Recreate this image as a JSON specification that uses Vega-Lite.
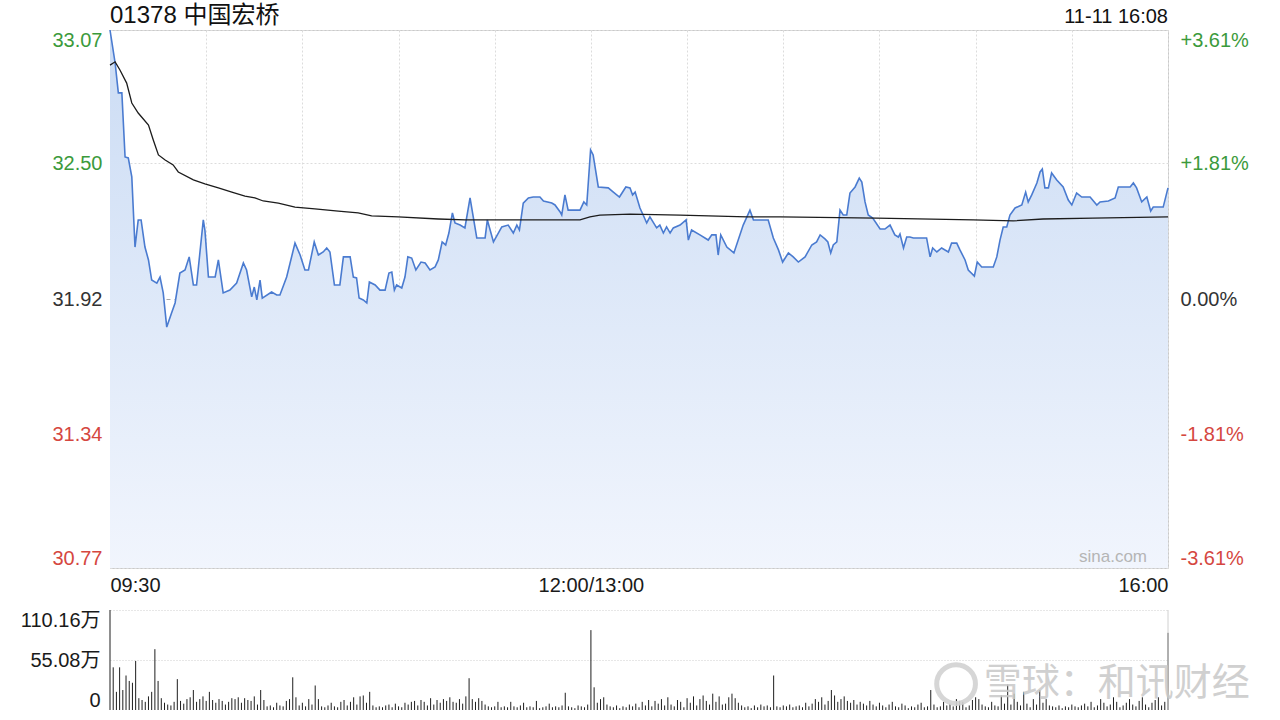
{
"$schema": "https://vega.github.io/schema/vega-lite/v6.json",
"background": "white",
"padding": {"left": 20, "top": 3, "right": 10, "bottom": 5},
"spacing": 13,
"config": {"font": "Liberation Sans, Noto Sans CJK SC", "view": {"stroke": null}},
"datasets": {
"price": [
{"m":0,"p":33.07},{"m":1.6,"p":32.929},{"m":2.6,"p":32.801},{"m":3.7,"p":32.801},{"m":4.7,"p":32.527},{"m":5.7,"p":32.523},{"m":6.8,"p":32.442},{"m":7.8,"p":32.142},{"m":8.8,"p":32.258},{"m":9.7,"p":32.258},{"m":10.9,"p":32.142},{"m":12,"p":32.087},{"m":13,"p":32.001},{"m":14.6,"p":31.988},{"m":15.6,"p":32.014},{"m":16.6,"p":31.946},{"m":17.7,"p":31.8},{"m":19.2,"p":31.86},{"m":20.3,"p":31.903},{"m":21.8,"p":32.031},{"m":23.4,"p":32.044},{"m":24.7,"p":32.1},{"m":26,"p":31.98},{"m":27,"p":31.98},{"m":29.1,"p":32.258},{"m":29.6,"p":32.215},{"m":30.7,"p":32.014},{"m":32.8,"p":32.014},{"m":33.8,"p":32.087},{"m":35.3,"p":31.946},{"m":37.4,"p":31.958},{"m":39.5,"p":31.988},{"m":41.6,"p":32.074},{"m":42.6,"p":32.044},{"m":44.2,"p":31.929},{"m":45,"p":31.971},{"m":45.8,"p":31.916},{"m":46.8,"p":32.001},{"m":47.5,"p":31.924},{"m":50.4,"p":31.95},{"m":52,"p":31.937},{"m":53,"p":31.937},{"m":55.1,"p":32.014},{"m":57.7,"p":32.159},{"m":59.3,"p":32.108},{"m":60.8,"p":32.044},{"m":61.9,"p":32.044},{"m":63.7,"p":32.164},{"m":65,"p":32.108},{"m":66.5,"p":32.121},{"m":67.6,"p":32.138},{"m":68.6,"p":32.121},{"m":70,"p":31.98},{"m":71.7,"p":31.98},{"m":72.8,"p":32.1},{"m":74.9,"p":32.1},{"m":75.9,"p":32.014},{"m":76.9,"p":32.01},{"m":77.7,"p":31.924},{"m":79,"p":31.916},{"m":80.1,"p":31.903},{"m":80.9,"p":31.993},{"m":82.7,"p":31.98},{"m":84.2,"p":31.958},{"m":85.8,"p":31.958},{"m":87,"p":32.031},{"m":87.9,"p":32.035},{"m":88.7,"p":31.958},{"m":89.4,"p":31.98},{"m":91,"p":31.967},{"m":92,"p":32.014},{"m":92.9,"p":32.1},{"m":94.1,"p":32.095},{"m":95.4,"p":32.044},{"m":97,"p":32.078},{"m":98.3,"p":32.074},{"m":99.8,"p":32.044},{"m":101.4,"p":32.057},{"m":102.4,"p":32.087},{"m":103.6,"p":32.164},{"m":104.7,"p":32.151},{"m":105.7,"p":32.202},{"m":106.8,"p":32.288},{"m":107.6,"p":32.245},{"m":109.2,"p":32.236},{"m":110.7,"p":32.224},{"m":112.3,"p":32.352},{"m":114.4,"p":32.181},{"m":117,"p":32.181},{"m":117.7,"p":32.258},{"m":119.6,"p":32.164},{"m":122.2,"p":32.228},{"m":124.2,"p":32.236},{"m":125.8,"p":32.202},{"m":126.9,"p":32.236},{"m":127.7,"p":32.215},{"m":128.9,"p":32.33},{"m":130.5,"p":32.352},{"m":132,"p":32.356},{"m":134.1,"p":32.356},{"m":135.2,"p":32.339},{"m":137.8,"p":32.33},{"m":138.8,"p":32.322},{"m":140.4,"p":32.292},{"m":140.9,"p":32.279},{"m":141.9,"p":32.365},{"m":142.9,"p":32.3},{"m":146.6,"p":32.3},{"m":147.8,"p":32.335},{"m":148.7,"p":32.322},{"m":149.9,"p":32.557},{"m":150.7,"p":32.536},{"m":152.3,"p":32.399},{"m":155.4,"p":32.395},{"m":157,"p":32.377},{"m":158.9,"p":32.356},{"m":160.9,"p":32.399},{"m":162.2,"p":32.395},{"m":163,"p":32.365},{"m":163.8,"p":32.377},{"m":165.3,"p":32.309},{"m":166.3,"p":32.279},{"m":167.4,"p":32.245},{"m":168.4,"p":32.271},{"m":170.5,"p":32.224},{"m":171.5,"p":32.236},{"m":172.6,"p":32.202},{"m":173.6,"p":32.228},{"m":174.7,"p":32.202},{"m":175.7,"p":32.224},{"m":177.8,"p":32.236},{"m":179.7,"p":32.258},{"m":180.4,"p":32.172},{"m":181.4,"p":32.215},{"m":184,"p":32.194},{"m":186.6,"p":32.172},{"m":187.7,"p":32.194},{"m":189,"p":32.194},{"m":189.7,"p":32.108},{"m":190.5,"p":32.194},{"m":192.4,"p":32.142},{"m":194.6,"p":32.117},{"m":197.5,"p":32.236},{"m":199.6,"p":32.3},{"m":200.7,"p":32.258},{"m":205.3,"p":32.258},{"m":206.9,"p":32.181},{"m":208.5,"p":32.13},{"m":209.8,"p":32.078},{"m":211.6,"p":32.117},{"m":213.1,"p":32.1},{"m":214.7,"p":32.078},{"m":216.8,"p":32.1},{"m":218.9,"p":32.151},{"m":220.4,"p":32.164},{"m":221.5,"p":32.194},{"m":223,"p":32.177},{"m":223.9,"p":32.164},{"m":224.8,"p":32.117},{"m":225.6,"p":32.151},{"m":226.7,"p":32.164},{"m":227.7,"p":32.3},{"m":228.7,"p":32.279},{"m":229.8,"p":32.279},{"m":230.8,"p":32.373},{"m":232.4,"p":32.399},{"m":233.7,"p":32.437},{"m":234.5,"p":32.42},{"m":235.5,"p":32.335},{"m":236.5,"p":32.279},{"m":237.9,"p":32.266},{"m":240.2,"p":32.219},{"m":241.7,"p":32.219},{"m":243.3,"p":32.236},{"m":244.8,"p":32.194},{"m":245.9,"p":32.185},{"m":246.4,"p":32.198},{"m":247.5,"p":32.138},{"m":248.5,"p":32.185},{"m":249.5,"p":32.185},{"m":250.6,"p":32.181},{"m":254.7,"p":32.181},{"m":255.8,"p":32.1},{"m":256.6,"p":32.138},{"m":257.9,"p":32.121},{"m":259.4,"p":32.138},{"m":261.5,"p":32.121},{"m":262.5,"p":32.159},{"m":264.1,"p":32.159},{"m":265.1,"p":32.13},{"m":266.7,"p":32.087},{"m":267.7,"p":32.044},{"m":269.6,"p":32.018},{"m":270.5,"p":32.078},{"m":271.9,"p":32.057},{"m":275.5,"p":32.057},{"m":276.6,"p":32.1},{"m":277.6,"p":32.172},{"m":278.6,"p":32.228},{"m":279.7,"p":32.228},{"m":280.7,"p":32.279},{"m":282.3,"p":32.309},{"m":284.4,"p":32.322},{"m":285.6,"p":32.377},{"m":286.4,"p":32.335},{"m":287.5,"p":32.365},{"m":289.1,"p":32.416},{"m":290.1,"p":32.463},{"m":290.8,"p":32.476},{"m":291.6,"p":32.395},{"m":292.7,"p":32.395},{"m":293.7,"p":32.459},{"m":295.3,"p":32.429},{"m":297.3,"p":32.399},{"m":298.9,"p":32.343},{"m":300,"p":32.322},{"m":301.5,"p":32.373},{"m":303.1,"p":32.356},{"m":305.7,"p":32.356},{"m":307.8,"p":32.322},{"m":308.8,"p":32.335},{"m":311.4,"p":32.339},{"m":313.5,"p":32.352},{"m":314.5,"p":32.399},{"m":318.2,"p":32.399},{"m":319.2,"p":32.416},{"m":320.2,"p":32.395},{"m":321.8,"p":32.335},{"m":323.4,"p":32.356},{"m":324.6,"p":32.296},{"m":325.4,"p":32.313},{"m":328.5,"p":32.313},{"m":330,"p":32.395}
],
"avg": [
{"m":0,"p":32.92},{"m":1.6,"p":32.934},{"m":3.1,"p":32.899},{"m":5.2,"p":32.843},{"m":6.8,"p":32.758},{"m":8.8,"p":32.715},{"m":12,"p":32.664},{"m":13.5,"p":32.6},{"m":15.1,"p":32.536},{"m":17.2,"p":32.514},{"m":19.7,"p":32.493},{"m":21.3,"p":32.463},{"m":26,"p":32.429},{"m":29.6,"p":32.412},{"m":33.8,"p":32.395},{"m":38,"p":32.377},{"m":42.1,"p":32.36},{"m":45.2,"p":32.352},{"m":47.8,"p":32.339},{"m":52.5,"p":32.33},{"m":57.7,"p":32.313},{"m":63.9,"p":32.305},{"m":71.2,"p":32.296},{"m":77.4,"p":32.288},{"m":81.6,"p":32.275},{"m":89.9,"p":32.271},{"m":102.4,"p":32.262},{"m":110.7,"p":32.258},{"m":127.9,"p":32.258},{"m":146.6,"p":32.258},{"m":149.7,"p":32.271},{"m":152.8,"p":32.279},{"m":162.2,"p":32.283},{"m":177.8,"p":32.279},{"m":198.6,"p":32.271},{"m":209,"p":32.271},{"m":239.1,"p":32.266},{"m":269.2,"p":32.258},{"m":281.7,"p":32.254},{"m":291,"p":32.262},{"m":306.6,"p":32.266},{"m":330,"p":32.271}
],
"vol": [
{"m":0,"v":110.16},{"m":1,"v":47},{"m":2,"v":20},{"m":3,"v":47},{"m":4,"v":22},{"m":5,"v":38},{"m":6,"v":32},{"m":7,"v":30},{"m":8,"v":54},{"m":9,"v":13},{"m":10,"v":11},{"m":11,"v":9},{"m":12,"v":15},{"m":13,"v":20},{"m":14,"v":67},{"m":15,"v":32},{"m":16,"v":13},{"m":17,"v":8},{"m":18,"v":6},{"m":19,"v":5},{"m":20,"v":9},{"m":21,"v":34},{"m":22,"v":10},{"m":23,"v":7},{"m":24,"v":12},{"m":25,"v":14},{"m":26,"v":22},{"m":27,"v":9},{"m":28,"v":12},{"m":29,"v":15},{"m":30,"v":10},{"m":31,"v":20},{"m":32,"v":11},{"m":33,"v":8},{"m":34,"v":12},{"m":35,"v":10},{"m":36,"v":6},{"m":37,"v":9},{"m":38,"v":13},{"m":39,"v":12},{"m":40,"v":14},{"m":41,"v":8},{"m":42,"v":13},{"m":43,"v":11},{"m":44,"v":10},{"m":45,"v":15},{"m":46,"v":6},{"m":47,"v":22},{"m":48,"v":11},{"m":49,"v":4},{"m":50,"v":5},{"m":51,"v":3},{"m":52,"v":8},{"m":53,"v":5},{"m":54,"v":4},{"m":55,"v":10},{"m":56,"v":12},{"m":57,"v":36},{"m":58,"v":14},{"m":59,"v":5},{"m":60,"v":8},{"m":61,"v":4},{"m":62,"v":12},{"m":63,"v":6},{"m":64,"v":27},{"m":65,"v":12},{"m":66,"v":4},{"m":67,"v":3},{"m":68,"v":5},{"m":69,"v":8},{"m":70,"v":4},{"m":71,"v":3},{"m":72,"v":9},{"m":73,"v":11},{"m":74,"v":5},{"m":75,"v":9},{"m":76,"v":14},{"m":77,"v":6},{"m":78,"v":15},{"m":79,"v":16},{"m":80,"v":8},{"m":81,"v":20},{"m":82,"v":5},{"m":83,"v":3},{"m":84,"v":4},{"m":85,"v":3},{"m":86,"v":5},{"m":87,"v":6},{"m":88,"v":3},{"m":89,"v":7},{"m":90,"v":4},{"m":91,"v":3},{"m":92,"v":8},{"m":93,"v":6},{"m":94,"v":9},{"m":95,"v":10},{"m":96,"v":5},{"m":97,"v":11},{"m":98,"v":9},{"m":99,"v":5},{"m":100,"v":13},{"m":101,"v":6},{"m":102,"v":11},{"m":103,"v":8},{"m":104,"v":12},{"m":105,"v":10},{"m":106,"v":14},{"m":107,"v":9},{"m":108,"v":8},{"m":109,"v":12},{"m":110,"v":7},{"m":111,"v":15},{"m":112,"v":35},{"m":113,"v":12},{"m":114,"v":9},{"m":115,"v":13},{"m":116,"v":10},{"m":117,"v":6},{"m":118,"v":4},{"m":119,"v":3},{"m":120,"v":4},{"m":121,"v":9},{"m":122,"v":3},{"m":123,"v":4},{"m":124,"v":3},{"m":125,"v":9},{"m":126,"v":4},{"m":127,"v":3},{"m":128,"v":5},{"m":129,"v":8},{"m":130,"v":3},{"m":131,"v":4},{"m":132,"v":3},{"m":133,"v":10},{"m":134,"v":2},{"m":135,"v":3},{"m":136,"v":4},{"m":137,"v":7},{"m":138,"v":3},{"m":139,"v":4},{"m":140,"v":3},{"m":141,"v":5},{"m":142,"v":19},{"m":143,"v":4},{"m":144,"v":3},{"m":145,"v":2},{"m":146,"v":5},{"m":147,"v":4},{"m":148,"v":3},{"m":149,"v":6},
{"m":150,"v":88},{"m":151,"v":25},{"m":152,"v":8},{"m":153,"v":12},{"m":154,"v":14},{"m":155,"v":6},{"m":156,"v":4},{"m":157,"v":3},{"m":158,"v":5},{"m":159,"v":2},{"m":160,"v":4},{"m":161,"v":3},{"m":162,"v":6},{"m":163,"v":4},{"m":164,"v":7},{"m":165,"v":3},{"m":166,"v":9},{"m":167,"v":5},{"m":168,"v":11},{"m":169,"v":4},{"m":170,"v":10},{"m":171,"v":7},{"m":172,"v":12},{"m":173,"v":5},{"m":174,"v":14},{"m":175,"v":6},{"m":176,"v":4},{"m":177,"v":11},{"m":178,"v":9},{"m":179,"v":3},{"m":180,"v":13},{"m":181,"v":8},{"m":182,"v":15},{"m":183,"v":5},{"m":184,"v":12},{"m":185,"v":16},{"m":186,"v":10},{"m":187,"v":6},{"m":188,"v":18},{"m":189,"v":9},{"m":190,"v":15},{"m":191,"v":6},{"m":192,"v":7},{"m":193,"v":14},{"m":194,"v":18},{"m":195,"v":13},{"m":196,"v":8},{"m":197,"v":5},{"m":198,"v":3},{"m":199,"v":4},{"m":200,"v":2},{"m":201,"v":5},{"m":202,"v":3},{"m":203,"v":6},{"m":204,"v":4},{"m":205,"v":5},{"m":206,"v":3},{"m":207,"v":38},{"m":208,"v":4},{"m":209,"v":3},{"m":210,"v":5},{"m":211,"v":4},{"m":212,"v":6},{"m":213,"v":3},{"m":214,"v":4},{"m":215,"v":5},{"m":216,"v":3},{"m":217,"v":8},{"m":218,"v":4},{"m":219,"v":7},{"m":220,"v":12},{"m":221,"v":9},{"m":222,"v":14},{"m":223,"v":6},{"m":224,"v":10},{"m":225,"v":22},{"m":226,"v":16},{"m":227,"v":9},{"m":228,"v":12},{"m":229,"v":15},{"m":230,"v":10},{"m":231,"v":8},{"m":232,"v":11},{"m":233,"v":6},{"m":234,"v":9},{"m":235,"v":7},{"m":236,"v":5},{"m":237,"v":10},{"m":238,"v":6},{"m":239,"v":4},{"m":240,"v":8},{"m":241,"v":5},{"m":242,"v":3},{"m":243,"v":6},{"m":244,"v":9},{"m":245,"v":4},{"m":246,"v":3},{"m":247,"v":7},{"m":248,"v":5},{"m":249,"v":2},{"m":250,"v":4},{"m":251,"v":3},{"m":252,"v":6},{"m":253,"v":8},{"m":254,"v":3},{"m":255,"v":4},{"m":256,"v":22},{"m":257,"v":6},{"m":258,"v":3},{"m":259,"v":4},{"m":260,"v":9},{"m":261,"v":5},{"m":262,"v":7},{"m":263,"v":4},{"m":264,"v":12},{"m":265,"v":10},{"m":266,"v":9},{"m":267,"v":3},{"m":268,"v":5},{"m":269,"v":11},{"m":270,"v":14},{"m":271,"v":12},{"m":272,"v":6},{"m":273,"v":4},{"m":274,"v":3},{"m":275,"v":9},{"m":276,"v":5},{"m":277,"v":4},{"m":278,"v":16},{"m":279,"v":7},{"m":280,"v":28},{"m":281,"v":6},{"m":282,"v":18},{"m":283,"v":9},{"m":284,"v":5},{"m":285,"v":20},{"m":286,"v":7},{"m":287,"v":3},{"m":288,"v":12},{"m":289,"v":6},{"m":290,"v":22},{"m":291,"v":8},{"m":292,"v":12},{"m":293,"v":5},{"m":294,"v":4},{"m":295,"v":3},{"m":296,"v":5},{"m":297,"v":2},{"m":298,"v":4},{"m":299,"v":3},{"m":300,"v":6},{"m":301,"v":4},{"m":302,"v":3},{"m":303,"v":5},{"m":304,"v":7},{"m":305,"v":4},{"m":306,"v":9},{"m":307,"v":3},{"m":308,"v":5},{"m":309,"v":12},{"m":310,"v":8},{"m":311,"v":4},{"m":312,"v":6},{"m":313,"v":14},{"m":314,"v":9},{"m":315,"v":3},{"m":316,"v":5},{"m":317,"v":8},{"m":318,"v":12},{"m":319,"v":6},{"m":320,"v":4},{"m":321,"v":10},{"m":322,"v":14},{"m":323,"v":6},{"m":324,"v":3},{"m":325,"v":8},{"m":326,"v":11},{"m":327,"v":14},{"m":328,"v":5},{"m":329,"v":9},{"m":330,"v":85}
]
},
"vconcat": [
{
"width": 1058, "height": 538,
"view": {"stroke": "#c9c9c9", "strokeWidth": 1},
"layer": [
{"layer": [
{"data": {"name": "price"},
 "mark": {"type": "area", "color": {"gradient": "linear", "x1": 0, "y1": 0, "x2": 0, "y2": 1, "stops": [{"offset": 0, "color": "#cbdcf4"}, {"offset": 1, "color": "#f1f5fd"}]}},
 "encoding": {
  "x": {"field": "m", "type": "quantitative", "scale": {"domain": [0, 330], "nice": false, "zero": false},
        "axis": {"title": null, "values": [0,30,60,90,120,150,180,210,240,270,300,330], "labelExpr": "datum.value == 0 ? '09:30' : datum.value == 150 ? '12:00/13:00' : datum.value == 330 ? '16:00' : ''", "labelFlush": true, "labelFontSize": 20, "labelColor": "#1a1a1a", "labelPadding": 7, "ticks": false, "domain": false, "grid": true, "gridColor": "#dcdcdc", "gridDash": [2, 2], "labelOverlap": false}},
  "y": {"field": "p", "type": "quantitative", "scale": {"domain": [30.77, 33.07], "nice": false, "zero": false},
        "axis": {"title": null, "orient": "left", "values": [30.77, 31.34, 31.92, 32.5, 33.07], "format": ".2f", "labelFlush": true, "labelFontSize": 20, "labelPadding": 8, "ticks": false, "domain": false, "grid": true,
                 "gridColor": {"condition": {"test": "datum.value == 31.92", "value": "#a8a8a8"}, "value": "#dcdcdc"},
                 "gridDash": {"condition": {"test": "datum.value == 31.92", "value": [4, 4]}, "value": [2, 2]},
                 "labelColor": {"condition": [{"test": "datum.value > 31.93", "value": "#3b9a3b"}, {"test": "datum.value < 31.91", "value": "#d5473f"}], "value": "#333333"}}},
  "y2": {"datum": 30.77}
 }},
{"data": {"name": "price"},
 "mark": {"type": "line", "color": "#4a7bd0", "strokeWidth": 1.6},
 "encoding": {"x": {"field": "m", "type": "quantitative"}, "y": {"field": "p", "type": "quantitative"}}},
{"data": {"values": [{}]},
 "mark": {"type": "text", "text": "01378 中国宏桥", "align": "left", "baseline": "alphabetic", "dy": -7, "fontSize": 24, "color": "#111111"},
 "encoding": {"x": {"datum": 0}, "y": {"datum": 33.07}}},
{"data": {"values": [{}]},
 "mark": {"type": "text", "text": "11-11 16:08", "align": "right", "baseline": "alphabetic", "dy": -7, "fontSize": 20, "color": "#111111"},
 "encoding": {"x": {"datum": 330}, "y": {"datum": 33.07}}},
{"data": {"values": [{}]},
 "mark": {"type": "text", "text": "sina.com", "align": "right", "baseline": "alphabetic", "dx": -21, "dy": -6, "fontSize": 17, "color": "#b5b5b5"},
 "encoding": {"x": {"datum": 330}, "y": {"datum": 30.77}}}
]},
{"data": {"name": "avg"},
 "mark": {"type": "line", "color": "#1c1c1c", "strokeWidth": 1.3},
 "encoding": {
  "x": {"field": "m", "type": "quantitative"},
  "y": {"field": "p", "type": "quantitative", "scale": {"domain": [30.77, 33.07], "nice": false, "zero": false},
        "axis": {"title": null, "orient": "right", "values": [30.77, 31.34, 31.92, 32.5, 33.07], "labelExpr": "datum.value > 33 ? '+3.61%' : datum.value > 32.4 ? '+1.81%' : datum.value > 31.9 ? '0.00%' : datum.value > 31.3 ? '-1.81%' : '-3.61%'", "labelFlush": true, "labelFontSize": 20, "labelPadding": 12, "ticks": false, "domain": false, "grid": false,
                 "labelColor": {"condition": [{"test": "datum.value > 31.93", "value": "#3b9a3b"}, {"test": "datum.value < 31.91", "value": "#d5473f"}], "value": "#333333"}}}
 }}
],
"resolve": {"scale": {"y": "independent"}}
},
{
"width": 1058, "height": 100,
"view": {"stroke": null},
"layer": [
{"data": {"name": "vol"},
 "mark": {"type": "rule", "color": "#1e1e1e", "strokeWidth": 1},
 "encoding": {
  "x": {"field": "m", "type": "quantitative", "scale": {"domain": [0, 330], "nice": false, "zero": false}, "axis": null},
  "y": {"field": "v", "type": "quantitative", "scale": {"domain": [0, 110.16], "nice": false},
        "axis": {"title": null, "values": [0, 55.08, 110.16], "labelExpr": "datum.value == 0 ? '0' : format(datum.value, '.2f') + '万'", "labelFlush": true, "labelFontSize": 20, "labelColor": "#1a1a1a", "labelPadding": 10, "ticks": false, "domain": false, "grid": true,
                 "gridColor": {"condition": {"test": "datum.value == 0", "value": "transparent"}, "value": "#cfcfcf"}, "gridDash": [1, 2]}},
  "y2": {"datum": 0}
 }},
{"data": {"values": [{}]},
 "mark": {"type": "rule", "color": "#d0d0d0", "strokeWidth": 1},
 "encoding": {"x": {"datum": 330}}},
{"data": {"values": [{}]},
 "mark": {"type": "point", "shape": "circle", "filled": false, "size": 1500, "strokeWidth": 5, "color": "#d2d2d2", "opacity": 0.9},
 "encoding": {"x": {"datum": 263.9}, "y": {"datum": 28.6}}},
{"data": {"values": [{}]},
 "mark": {"type": "text", "text": "雪球：和讯财经", "font": "Noto Sans CJK SC", "align": "left", "baseline": "middle", "fontSize": 38, "color": "#c8c8c8", "opacity": 0.85},
 "encoding": {"x": {"datum": 272.5}, "y": {"datum": 28.6}}}
]
}
]
}
